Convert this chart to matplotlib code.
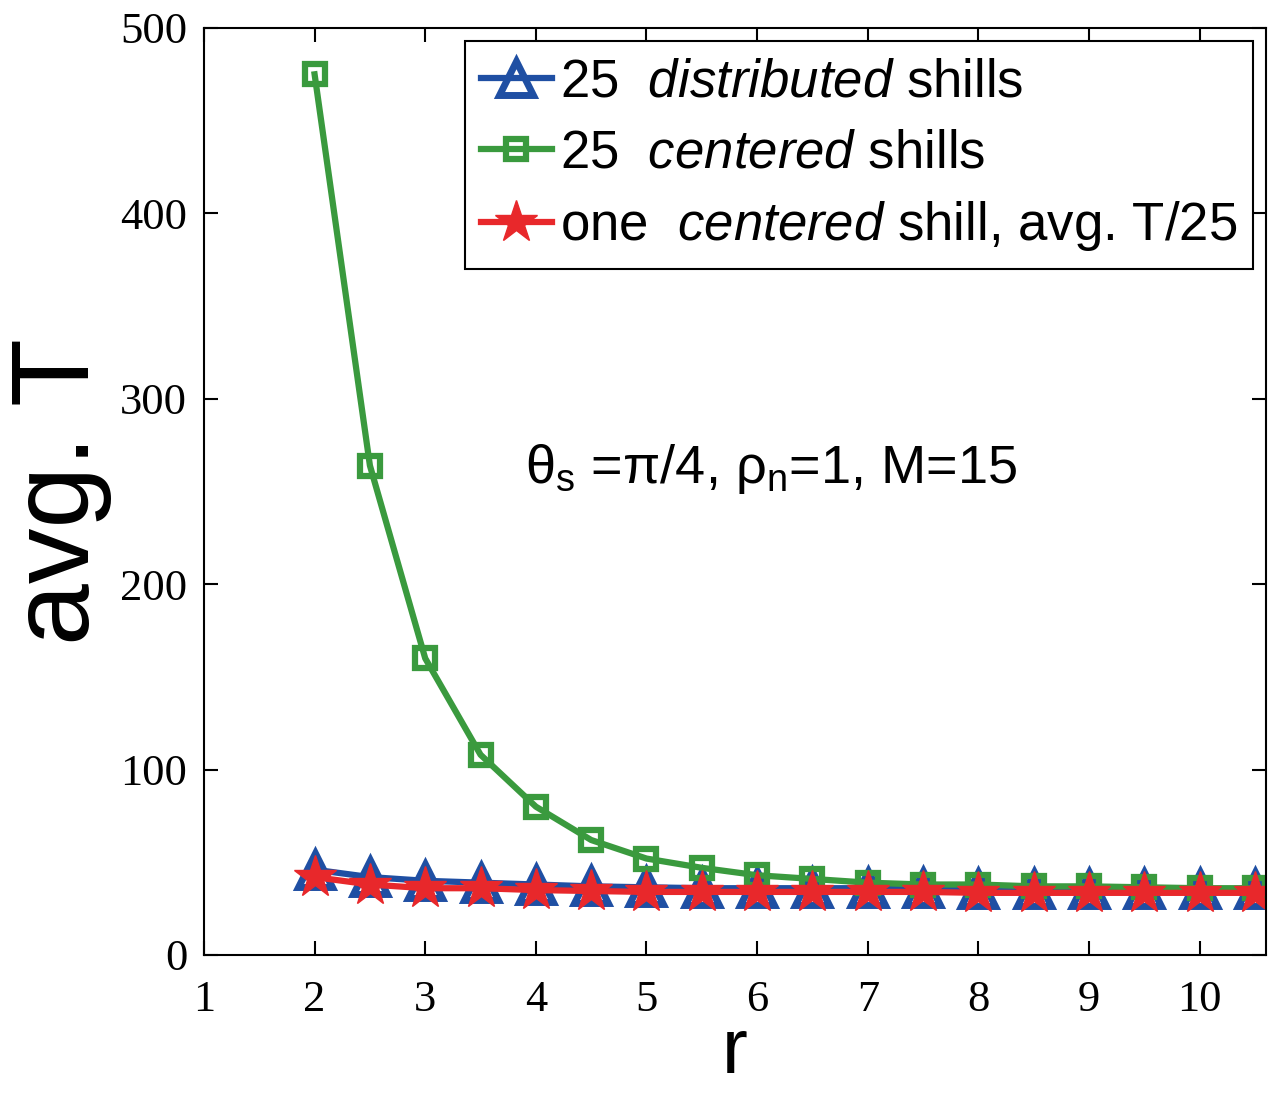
import numpy as np
import matplotlib
matplotlib.use('Agg')
import matplotlib.pyplot as plt

plt.rcParams['mathtext.fontset'] = 'custom'
plt.rcParams['mathtext.rm'] = 'Liberation Sans'
plt.rcParams['mathtext.it'] = 'Liberation Sans:italic'

# data
r = [2, 2.5, 3, 3.5, 4, 4.5, 5, 5.5, 6, 6.5, 7, 7.5, 8, 8.5, 9, 9.5, 10, 10.5]
distributed = [46, 42, 40, 39, 38, 37, 36.5, 36, 36, 36, 36, 36, 35.5, 35.5, 35.5, 35.5, 35.5, 35.5]
centered = [475, 264, 160, 108, 80, 62, 52, 47, 43, 41, 39, 38, 38, 37, 37, 36.5, 36, 36]
one_centered = [42, 38, 36, 36, 35, 34.5, 34, 34, 34, 34, 34, 34, 33.5, 33.5, 33.5, 33.5, 33.5, 33.5]

labels = ['25  $\\mathit{distributed}$ shills',
          '25  $\\mathit{centered}$ shills',
          'one  $\\mathit{centered}$ shill, avg. T/25']

blue = '#1f4fa3'
green = '#3a9a3e'
red = '#e8282b'

fig = plt.figure(figsize=(12.78, 10.93), dpi=100)
ax = fig.add_axes([0.1596, 0.1263, 0.831, 0.8481])

ax.plot(r, distributed, color=blue, lw=4.5, marker='^', ms=24, mfc='none', mew=5, label=labels[0])
ax.plot(r, centered, color=green, lw=4.5, marker='s', ms=15, mfc='none', mew=4.5, label=labels[1])
ax.plot(r, one_centered, color=red, lw=4.5, marker='*', ms=32, mew=1, mec=red, label=labels[2])

ax.set_xlim(1, 10.6)
ax.set_ylim(0, 500)
ax.set_xticks(range(1, 11))
ax.set_yticks(range(0, 501, 100))

for sp in ax.spines.values():
    sp.set_linewidth(1.5)
ax.tick_params(direction='in', length=10, width=1.5, top=True, right=True, labelsize=32)
ax.tick_params(axis='x', pad=18)
ax.tick_params(axis='y', pad=12)
for t in ax.get_xticklabels() + ax.get_yticklabels():
    t.set_family('Liberation Serif')

ax.set_xlabel('r', fontsize=56, family='Liberation Sans', labelpad=-3)
ax.set_ylabel('avg. T', fontsize=80, family='Liberation Sans', labelpad=6)

ax.text(3.9, 262, 'θ$_\\mathrm{s}$ =π/4, ρ$_\\mathrm{n}$=1, M=15', fontsize=39,
        family='Liberation Sans', va='center', ha='left')

leg = ax.legend(loc='upper right', prop={'family': 'Liberation Sans', 'size': 38},
                handlelength=1.35, handletextpad=0.15, borderaxespad=0.25, labelspacing=0.4,
                borderpad=0.3, fancybox=False, framealpha=1, edgecolor='black')
leg.get_frame().set_linewidth(1.5)

fig.savefig('out.png', dpi=100)
